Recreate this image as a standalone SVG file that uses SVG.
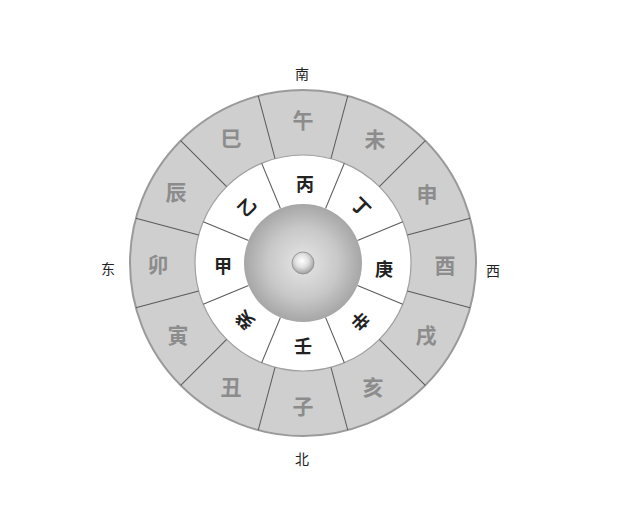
<svg xmlns="http://www.w3.org/2000/svg" width="641" height="518" viewBox="0 0 641 518">
<defs>
<radialGradient id="sph" cx="50%" cy="50%" r="50%">
<stop offset="0" stop-color="#e6e6e6"/>
<stop offset="0.6" stop-color="#c8c8c8"/>
<stop offset="1" stop-color="#a6a6a6"/>
</radialGradient>
<radialGradient id="dot" cx="45%" cy="40%" r="60%">
<stop offset="0" stop-color="#ffffff"/>
<stop offset="0.5" stop-color="#e0e0e0"/>
<stop offset="1" stop-color="#a0a0a0"/>
</radialGradient>
<style>
.ol{fill:#8c8c8c;font-family:"Noto Sans CJK SC","Noto Sans CJK JP",sans-serif;font-size:21px;font-weight:bold;text-anchor:middle;dominant-baseline:central}
.il{fill:#222;font-family:"Noto Sans CJK SC","Noto Sans CJK JP",sans-serif;font-size:18px;font-weight:bold;text-anchor:middle;dominant-baseline:central}
.dl{fill:#222;font-family:"Noto Sans CJK SC","Noto Sans CJK JP",sans-serif;font-size:14px;text-anchor:middle;dominant-baseline:central}
.sep{stroke:#5a5a5a;stroke-width:1}
</style>
</defs>
<rect width="641" height="518" fill="#ffffff"/>
<g id="outer-ring">
<circle cx="303" cy="263" r="173" fill="#cfcfcf" stroke="#9a9a9a" stroke-width="2"/>
</g>
<g id="inner-ring">
<circle cx="303" cy="263" r="108" fill="#ffffff" stroke="#a0a0a0" stroke-width="1.2"/>
</g>
<g id="connectors">
<line class="sep" x1="303" y1="155" x2="303" y2="90" transform="rotate(15 303 263)"/>
<line class="sep" x1="303" y1="155" x2="303" y2="90" transform="rotate(45 303 263)"/>
<line class="sep" x1="303" y1="155" x2="303" y2="90" transform="rotate(75 303 263)"/>
<line class="sep" x1="303" y1="155" x2="303" y2="90" transform="rotate(105 303 263)"/>
<line class="sep" x1="303" y1="155" x2="303" y2="90" transform="rotate(135 303 263)"/>
<line class="sep" x1="303" y1="155" x2="303" y2="90" transform="rotate(165 303 263)"/>
<line class="sep" x1="303" y1="155" x2="303" y2="90" transform="rotate(195 303 263)"/>
<line class="sep" x1="303" y1="155" x2="303" y2="90" transform="rotate(225 303 263)"/>
<line class="sep" x1="303" y1="155" x2="303" y2="90" transform="rotate(255 303 263)"/>
<line class="sep" x1="303" y1="155" x2="303" y2="90" transform="rotate(285 303 263)"/>
<line class="sep" x1="303" y1="155" x2="303" y2="90" transform="rotate(315 303 263)"/>
<line class="sep" x1="303" y1="155" x2="303" y2="90" transform="rotate(345 303 263)"/>
<line class="sep" x1="303" y1="204" x2="303" y2="155" transform="rotate(22.5 303 263)"/>
<line class="sep" x1="303" y1="204" x2="303" y2="155" transform="rotate(67.5 303 263)"/>
<line class="sep" x1="303" y1="204" x2="303" y2="155" transform="rotate(112.5 303 263)"/>
<line class="sep" x1="303" y1="204" x2="303" y2="155" transform="rotate(157.5 303 263)"/>
<line class="sep" x1="303" y1="204" x2="303" y2="155" transform="rotate(202.5 303 263)"/>
<line class="sep" x1="303" y1="204" x2="303" y2="155" transform="rotate(247.5 303 263)"/>
<line class="sep" x1="303" y1="204" x2="303" y2="155" transform="rotate(292.5 303 263)"/>
<line class="sep" x1="303" y1="204" x2="303" y2="155" transform="rotate(337.5 303 263)"/>
</g>
<g id="center">
<circle cx="303" cy="263" r="59" fill="url(#sph)"/>
<circle cx="303" cy="263" r="11" fill="url(#dot)" stroke="#8a8a8a" stroke-width="0.8"/>
</g>
<g id="branches">
<text class="ol" x="303" y="119">午</text>
<text class="ol" x="375" y="138">未</text>
<text class="ol" x="427" y="193">申</text>
<text class="ol" x="445" y="264">酉</text>
<text class="ol" x="426" y="334">戌</text>
<text class="ol" x="373" y="386">亥</text>
<text class="ol" x="303" y="405">子</text>
<text class="ol" x="231" y="386">丑</text>
<text class="ol" x="178" y="334">寅</text>
<text class="ol" x="158" y="263">卯</text>
<text class="ol" x="176" y="191">辰</text>
<text class="ol" x="231" y="137">巳</text>
</g>
<g id="stems">
<text class="il" x="305" y="183">丙</text>
<text class="il" transform="rotate(45 362 206)" x="362" y="206">丁</text>
<text class="il" x="384" y="268">庚</text>
<text class="il" transform="rotate(135 361 322)" x="361" y="322">辛</text>
<text class="il" x="303" y="345">壬</text>
<text class="il" transform="rotate(-135 244 321)" x="244" y="321">癸</text>
<text class="il" x="223" y="265">甲</text>
<text class="il" transform="rotate(-45 246 206)" x="246" y="206">乙</text>
</g>
<g id="directions">
<text class="dl" x="302" y="73">南</text>
<text class="dl" x="302" y="458">北</text>
<text class="dl" x="108" y="268">东</text>
<text class="dl" x="493" y="270">西</text>
</g>
</svg>
